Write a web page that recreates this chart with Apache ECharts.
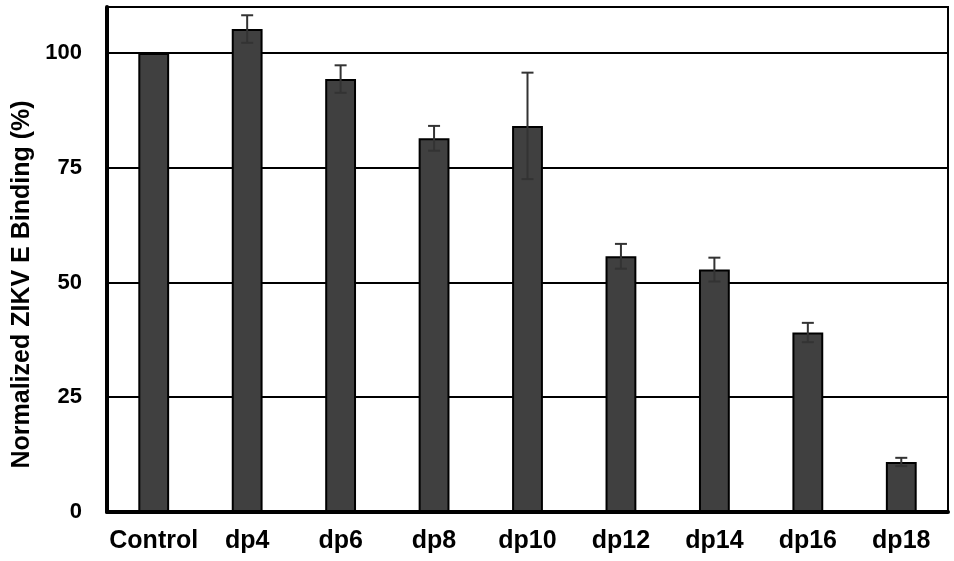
<!DOCTYPE html>
<html>
<head>
<meta charset="utf-8">
<script src="https://cdn.jsdelivr.net/npm/echarts@6/dist/echarts.min.js"></script>
<style>
  html, body { margin: 0; padding: 0; background: #fff; }
  #chart { width: 954px; height: 561px; }
</style>
</head>
<body>
<div id="chart"></div>
<script>
// categories and values
const categories = ["Control", "dp4", "dp6", "dp8", "dp10", "dp12", "dp14", "dp16", "dp18"];
const means = [100, 105.2, 94.3, 81.4, 84.1, 55.7, 52.8, 39.1, 10.9];
const errors = [0, 3.0, 3.0, 2.7, 11.6, 2.7, 2.6, 2.1, 0.9];
const yTicks = [0, 25, 50, 75, 100];

const chart = echarts.init(document.getElementById("chart"));

const errorData = categories.map((c, i) => [i, means[i] - errors[i], means[i] + errors[i]]);

const option = {
  animation: false,
  backgroundColor: "#fff",
  grid: { left: 107, right: 6, top: 7, bottom: 49, show: true, borderColor: "#000", borderWidth: 2 },
  xAxis: {
    type: "category",
    data: categories,
    axisLine: { lineStyle: { color: "#000", width: 4 } },
    axisTick: { show: false },
    axisLabel: {
      color: "#000",
      fontFamily: "Liberation Sans, Arial, sans-serif",
      fontWeight: "bold",
      fontSize: 25,
      margin: 17,
      interval: 0,
    },
  },
  yAxis: {
    type: "value",
    min: 0,
    max: 110,
    interval: 25,
    name: "Normalized ZIKV E Binding (%)",
    nameLocation: "middle",
    nameGap: 72,
    nameTextStyle: {
      color: "#000",
      fontFamily: "Liberation Sans, Arial, sans-serif",
      fontWeight: "bold",
      fontSize: 25,
      padding: [0, 50, 0, 0],
    },
    axisLine: { show: true, lineStyle: { color: "#000", width: 4 } },
    axisTick: { show: false },
    axisLabel: {
      color: "#000",
      fontFamily: "Liberation Sans, Arial, sans-serif",
      fontWeight: "bold",
      fontSize: 22,
      margin: 25,
      formatter: (v) => (yTicks.includes(v) ? String(v) : ""),
    },
    splitLine: { lineStyle: { color: "#000", width: 2 } },
  },
  series: [
    {
      type: "bar",
      data: means,
      barWidth: "33%",
      itemStyle: { color: "#404040", borderColor: "#000", borderWidth: 2 },
      z: 2,
    },
    {
      type: "custom",
      data: errorData,
      z: 3,
      renderItem: (params, api) => {
        if (api.value(2) - api.value(1) === 0) return null;
        const lo = api.coord([api.value(0), api.value(1)]);
        const hi = api.coord([api.value(0), api.value(2)]);
        const hw = 6;
        const style = { stroke: "#333", lineWidth: 2 };
        return {
          type: "group",
          children: [
            { type: "line", shape: { x1: hi[0], y1: hi[1], x2: lo[0], y2: lo[1] }, style },
            { type: "line", shape: { x1: hi[0] - hw, y1: hi[1], x2: hi[0] + hw, y2: hi[1] }, style },
            { type: "line", shape: { x1: lo[0] - hw, y1: lo[1], x2: lo[0] + hw, y2: lo[1] }, style },
          ],
        };
      },
    },
  ],
};

chart.setOption(option);
</script>
</body>
</html>
